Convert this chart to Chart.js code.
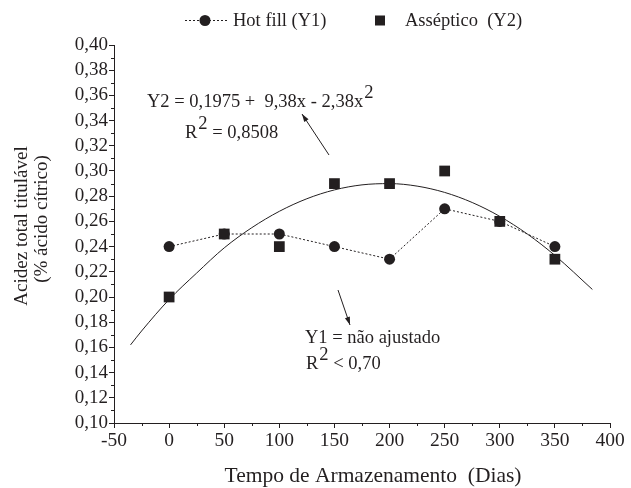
<!DOCTYPE html>
<html>
<head>
<meta charset="utf-8">
<script src="https://cdn.jsdelivr.net/npm/chart.js@4/dist/chart.umd.min.js"></script>
<style>
  html, body { margin: 0; padding: 0; background: #fff; }
  #wrap { width: 631px; height: 488px; }
</style>
</head>
<body>
<div id="wrap"><canvas id="c" width="631" height="488"></canvas></div>
<script>
// ---- data ----
const days = [0, 50, 100, 150, 200, 250, 300, 350];
const hotFill = [0.24, 0.25, 0.25, 0.24, 0.23, 0.27, 0.26, 0.24];
const asseptico = [0.20, 0.25, 0.24, 0.29, 0.29, 0.30, 0.26, 0.23];
const fitDays = [-35, -25, 0, 25, 50, 75, 100, 125, 150, 175, 200, 225, 250, 275, 300, 325, 350, 384];
const fitY2 = [0.162, 0.173, 0.198, 0.219, 0.239, 0.255, 0.268, 0.278, 0.285, 0.289, 0.290, 0.288, 0.283, 0.275, 0.264, 0.250, 0.233, 0.206];
const xMinorTicks = [-25, 25, 75, 125, 175, 225, 275, 325, 375];
const yMinorTicks = [0.11, 0.13, 0.15, 0.17, 0.19, 0.21, 0.23, 0.25, 0.27, 0.29, 0.31, 0.33, 0.35, 0.37, 0.39];
const legendLabels = ['Hot fill (Y1)', 'Asséptico  (Y2)'];
const xTitle = 'Tempo de Armazenamento  (Dias)';
const yTitle = ['Acidez total titulável', '(% ácido cítrico)'];

const ink = '#231f20';
const FONT = '"Liberation Serif", "Times New Roman", serif';

const toXY = (xs, ys) => xs.map((x, i) => ({ x: x, y: ys[i] }));

const minorTicks = {
  id: 'minorTicks',
  afterDraw(chart) {
    const ctx = chart.ctx;
    const xs = chart.scales.x, ys = chart.scales.y;
    const area = chart.chartArea;
    ctx.save();
    ctx.strokeStyle = ink;
    ctx.lineWidth = 1;
    ctx.beginPath();
    xMinorTicks.forEach(v => {
      const px = Math.round(xs.getPixelForValue(v)) + 0.5;
      ctx.moveTo(px, area.bottom);
      ctx.lineTo(px, area.bottom + 3);
    });
    yMinorTicks.forEach(v => {
      const py = Math.round(ys.getPixelForValue(v)) + 0.5;
      ctx.moveTo(area.left, py);
      ctx.lineTo(area.left - 3, py);
    });
    ctx.stroke();
    ctx.restore();
  }
};

function drawPieces(ctx, x, y, pieces, size) {
  let cx = x;
  ctx.font = size + 'px ' + FONT;
  pieces.forEach(p => {
    if (p.sup) {
      ctx.fillText(p.t, cx + 1, y - 9);
      cx += ctx.measureText(p.t).width + 1;
    } else {
      ctx.fillText(p.t, cx, y);
      cx += ctx.measureText(p.t).width;
    }
  });
}

function arrow(ctx, x0, y0, x1, y1) {
  const ang = Math.atan2(y1 - y0, x1 - x0);
  ctx.beginPath();
  ctx.moveTo(x0, y0);
  ctx.lineTo(x1, y1);
  ctx.stroke();
  const L = 8, W = 2.6;
  ctx.beginPath();
  ctx.moveTo(x1, y1);
  ctx.lineTo(x1 - L * Math.cos(ang) + W * Math.sin(ang), y1 - L * Math.sin(ang) - W * Math.cos(ang));
  ctx.lineTo(x1 - L * Math.cos(ang) - W * Math.sin(ang), y1 - L * Math.sin(ang) + W * Math.cos(ang));
  ctx.closePath();
  ctx.fill();
}

const annotations = {
  id: 'annotations',
  afterDraw(chart) {
    const ctx = chart.ctx;
    ctx.save();
    ctx.fillStyle = ink;
    ctx.strokeStyle = ink;
    ctx.lineWidth = 1;
    // legend
    const ly = 20;
    ctx.setLineDash([2, 2]);
    ctx.beginPath(); ctx.moveTo(185, ly + 0.5); ctx.lineTo(228, ly + 0.5); ctx.stroke();
    ctx.setLineDash([]);
    ctx.beginPath(); ctx.arc(205, ly + 0.5, 5.5, 0, Math.PI * 2); ctx.fill();
    ctx.fillRect(375, ly - 4.5, 10, 10);
    ctx.textBaseline = 'alphabetic';
    ctx.textAlign = 'left';
    ctx.font = '18.5px ' + FONT;
    ctx.fillText(legendLabels[0], 233, ly + 6);
    ctx.fillText(legendLabels[1], 405, ly + 6);

    // y axis title (two rotated lines)
    ctx.save();
    ctx.font = '19px ' + FONT;
    ctx.textAlign = 'center';
    ctx.textBaseline = 'middle';
    ctx.translate(22, 226); ctx.rotate(-Math.PI / 2);
    ctx.fillText(yTitle[0], 0, 0);
    ctx.restore();
    ctx.save();
    ctx.font = '19px ' + FONT;
    ctx.textAlign = 'center';
    ctx.textBaseline = 'middle';
    ctx.translate(42, 219); ctx.rotate(-Math.PI / 2);
    ctx.fillText(yTitle[1], 0, 0);
    ctx.restore();

    // x axis title
    ctx.font = '21.5px ' + FONT;
    ctx.textAlign = 'center';
    ctx.textBaseline = 'alphabetic';
    ctx.fillText(xTitle, 373, 482);

    // regression annotations
    ctx.textAlign = 'left';
    ctx.textBaseline = 'alphabetic';
    drawPieces(ctx, 147, 107, [{ t: 'Y2 = 0,1975 +  9,38x - 2,38x' }, { t: '2', sup: true }], 18.5);
    drawPieces(ctx, 185, 138, [{ t: 'R' }, { t: '2', sup: true }, { t: ' = 0,8508' }], 18.5);
    drawPieces(ctx, 305, 343, [{ t: 'Y1 = não ajustado' }], 18.5);
    drawPieces(ctx, 306, 369, [{ t: 'R' }, { t: '2', sup: true }, { t: ' < 0,70' }], 18.5);

    arrow(ctx, 329, 155, 302, 114);
    arrow(ctx, 338, 290, 350, 325);
    ctx.restore();
  }
};

new Chart(document.getElementById('c'), {
  type: 'line',
  data: {
    datasets: [
      {
        label: 'fit',
        data: toXY(fitDays, fitY2),
        borderColor: ink,
        borderWidth: 1,
        pointRadius: 0,
        fill: false,
        cubicInterpolationMode: 'monotone',
        order: 3
      },
      {
        label: legendLabels[0],
        data: toXY(days, hotFill),
        borderColor: ink,
        backgroundColor: ink,
        borderWidth: 1,
        borderDash: [2, 2],
        pointStyle: 'circle',
        pointRadius: 5.5,
        pointBorderWidth: 0,
        tension: 0,
        fill: false,
        order: 2
      },
      {
        label: legendLabels[1],
        data: toXY(days, asseptico),
        showLine: false,
        borderColor: ink,
        backgroundColor: ink,
        pointStyle: 'rect',
        pointRadius: 7.6,
        pointBorderWidth: 0,
        order: 1
      }
    ]
  },
  options: {
    responsive: false,
    animation: false,
    devicePixelRatio: 1,
    layout: { padding: { left: 0, right: 21, top: 45, bottom: 0 } },
    plugins: { legend: { display: false }, tooltip: { enabled: false }, title: { display: false } },
    scales: {
      x: {
        type: 'linear',
        min: -50, max: 400,
        afterFit(s) { s.height = 65; },
        ticks: { stepSize: 50, autoSkip: false, color: ink, font: { family: FONT, size: 19.5, lineHeight: 1 }, padding: 3, maxRotation: 0 },
        grid: { drawOnChartArea: false, drawTicks: true, tickLength: 5, color: ink, tickColor: ink },
        border: { display: true, color: ink, width: 1 },
        title: { display: false }
      },
      y: {
        type: 'linear',
        min: 0.10, max: 0.40,
        afterFit(s) { s.width = 114; },
        ticks: {
          stepSize: 0.02, autoSkip: false, color: ink, font: { family: FONT, size: 19, lineHeight: 1 }, padding: 1,
          callback: v => v.toFixed(2).replace('.', ',')
        },
        grid: { drawOnChartArea: false, drawTicks: true, tickLength: 5, color: ink, tickColor: ink },
        border: { display: true, color: ink, width: 1 },
        title: { display: false }
      }
    }
  },
  plugins: [minorTicks, annotations]
});
</script>
</body>
</html>
